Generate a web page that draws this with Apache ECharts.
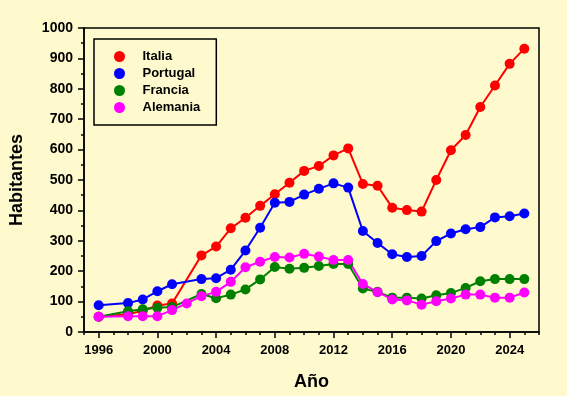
<!DOCTYPE html>
<html>
<head>
<meta charset="utf-8">
<script src="https://cdn.jsdelivr.net/npm/echarts@6/dist/echarts.min.js"></script>
<style>
  html, body { margin: 0; padding: 0; background: #fffacd; }
  #chart { width: 567px; height: 396px; }
</style>
</head>
<body>
<div id="chart"></div>
<script>
const years = [1996, 1997, 1998, 1999, 2000, 2001, 2002, 2003, 2004, 2005,
  2006, 2007, 2008, 2009, 2010, 2011, 2012, 2013, 2014, 2015,
  2016, 2017, 2018, 2019, 2020, 2021, 2022, 2023, 2024, 2025];

const italia = [50, null, 58, 70, 87, 94, null, 252, 281, 341,
  376, 415, 453, 491, 530, 546, 581, 604, 487, 481,
  409, 401, 396, 500, 598, 648, 740, 811, 882, 932];
const portugal = [88, null, 95, 107, 134, 157, null, 174, 177, 205,
  268, 343, 425, 428, 452, 471, 489, 475, 332, 293,
  256, 247, 250, 299, 324, 338, 345, 377, 381, 390];
const francia = [50, null, 68, 75, 80, 82, null, 125, 111, 123,
  140, 173, 214, 208, 211, 217, 224, 224, 143, 132,
  113, 113, 110, 121, 128, 145, 167, 174, 174, 174];
const alemania = [50, null, 52, 52, 52, 72, 94, 118, 132, 165,
  213, 231, 247, 245, 257, 248, 237, 237, 158, 131,
  107, 104, 90, 101, 110, 123, 123, 113, 113, 130];

const majorYears = [1996, 2000, 2004, 2008, 2012, 2016, 2020, 2024];

const SERIES = [
  { name: 'Italia', color: '#ff0000', values: italia },
  { name: 'Portugal', color: '#0000ff', values: portugal },
  { name: 'Francia', color: '#008000', values: francia },
  { name: 'Alemania', color: '#ff00ff', values: alemania },
];

const FONT = 'Liberation Sans, Arial, sans-serif';
const chart = echarts.init(document.getElementById('chart'));

function pairs(values) {
  return years.map((y, i) => [y, values[i]]).filter((p) => p[1] != null);
}

chart.setOption({
  backgroundColor: '#fffacd',
  animation: false,
  grid: {
    left: 82, right: 28, top: 28, bottom: 64,
    show: true, borderColor: '#000', borderWidth: 1.5,
  },
  legend: {
    orient: 'vertical',
    left: 94,
    top: 39,
    icon: 'circle',
    itemWidth: 36,
    itemHeight: 11,
    itemGap: 4,
    padding: [11, 16, 11, 20],
    borderColor: '#000',
    borderWidth: 1.5,
    textStyle: { fontFamily: FONT, fontSize: 13, fontWeight: 'bold', color: '#000' },
    data: SERIES.map((s) => s.name),
  },
  xAxis: [
    {
      type: 'value',
      min: 1995,
      max: 2026,
      interval: 1,
      name: 'Año',
      nameLocation: 'middle',
      nameGap: 41,
      nameTextStyle: { fontFamily: FONT, fontSize: 18, fontWeight: 'bold', color: '#000' },
      axisLine: { lineStyle: { color: '#000', width: 1.5 } },
      axisTick: { customValues: majorYears, length: 6, lineStyle: { color: '#000', width: 1.5 } },
      axisLabel: {
        customValues: majorYears,
        margin: 12,
        formatter: (v) => String(v),
        fontFamily: FONT, fontSize: 13, fontWeight: 'bold', color: '#000',
      },
      splitLine: { show: false },
    },
    {
      type: 'value',
      min: 1995,
      max: 2026,
      interval: 1,
      position: 'bottom',
      axisLine: { show: false },
      axisTick: { length: 3, lineStyle: { color: '#000', width: 1.5 } },
      axisLabel: { show: false },
      splitLine: { show: false },
    },
  ],
  yAxis: {
    type: 'value',
    min: 0,
    max: 1000,
    interval: 100,
    name: 'Habitantes',
    nameLocation: 'middle',
    nameGap: 58,
    nameTextStyle: { fontFamily: FONT, fontSize: 18, fontWeight: 'bold', color: '#000' },
    axisLine: { show: true, lineStyle: { color: '#000', width: 1.5 } },
    axisTick: { show: true, length: 6, lineStyle: { color: '#000', width: 1.5 } },
    minorTick: { show: true, splitNumber: 2, length: 3, lineStyle: { color: '#000', width: 1.5 } },
    axisLabel: {
      margin: 11,
      formatter: (v) => String(v),
      fontFamily: FONT, fontSize: 14, fontWeight: 'bold', color: '#000',
    },
    splitLine: { show: false },
  },
  series: SERIES.map((s) => ({
    name: s.name,
    type: 'line',
    xAxisIndex: 0,
    symbol: 'circle',
    symbolSize: 10,
    itemStyle: { color: s.color },
    lineStyle: { color: s.color, width: 2 },
    data: pairs(s.values),
  })),
});
</script>
</body>
</html>
